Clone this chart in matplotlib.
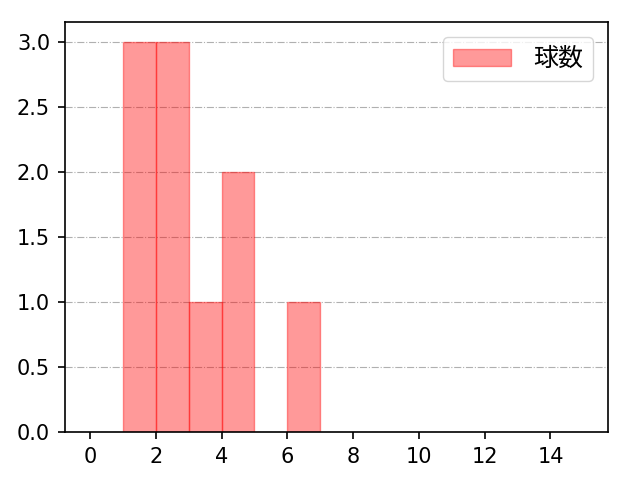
import matplotlib
matplotlib.use('Agg')
import matplotlib.pyplot as plt

plt.rcParams['font.family'] = ['DejaVu Sans', 'Noto Sans CJK JP']

# histogram bins (left edges) and counts
bin_left = [1, 2, 3, 4, 6]
counts = [3, 3, 1, 2, 1]
label = '球数'

fig, ax = plt.subplots(figsize=(6.4, 4.8), dpi=100)
fig.subplots_adjust(left=0.102, right=0.95, top=0.954, bottom=0.1)

ax.bar(bin_left, counts, width=1, align='edge', color='red', alpha=0.4,
       edgecolor='red', linewidth=1, label=label)
ax.set_xlim(-0.75, 15.75)
ax.set_ylim(0, 3.15)
ax.set_xticks(range(0, 15, 2))
ax.set_yticks([0, 0.5, 1.0, 1.5, 2.0, 2.5, 3.0])
ax.set_yticklabels(['0.0', '0.5', '1.0', '1.5', '2.0', '2.5', '3.0'])
ax.tick_params(labelsize=15, length=5, width=1.2, pad=6)
ax.grid(axis='y', linestyle='-.', color='#b0b0b0', linewidth=0.8)
ax.set_axisbelow(True)
for s in ax.spines.values():
    s.set_linewidth(1.2)
ax.legend(loc='upper right', fontsize=18, borderaxespad=0.6,
          handlelength=2.3, handletextpad=0.9)

fig.savefig('out.png', dpi=100)
